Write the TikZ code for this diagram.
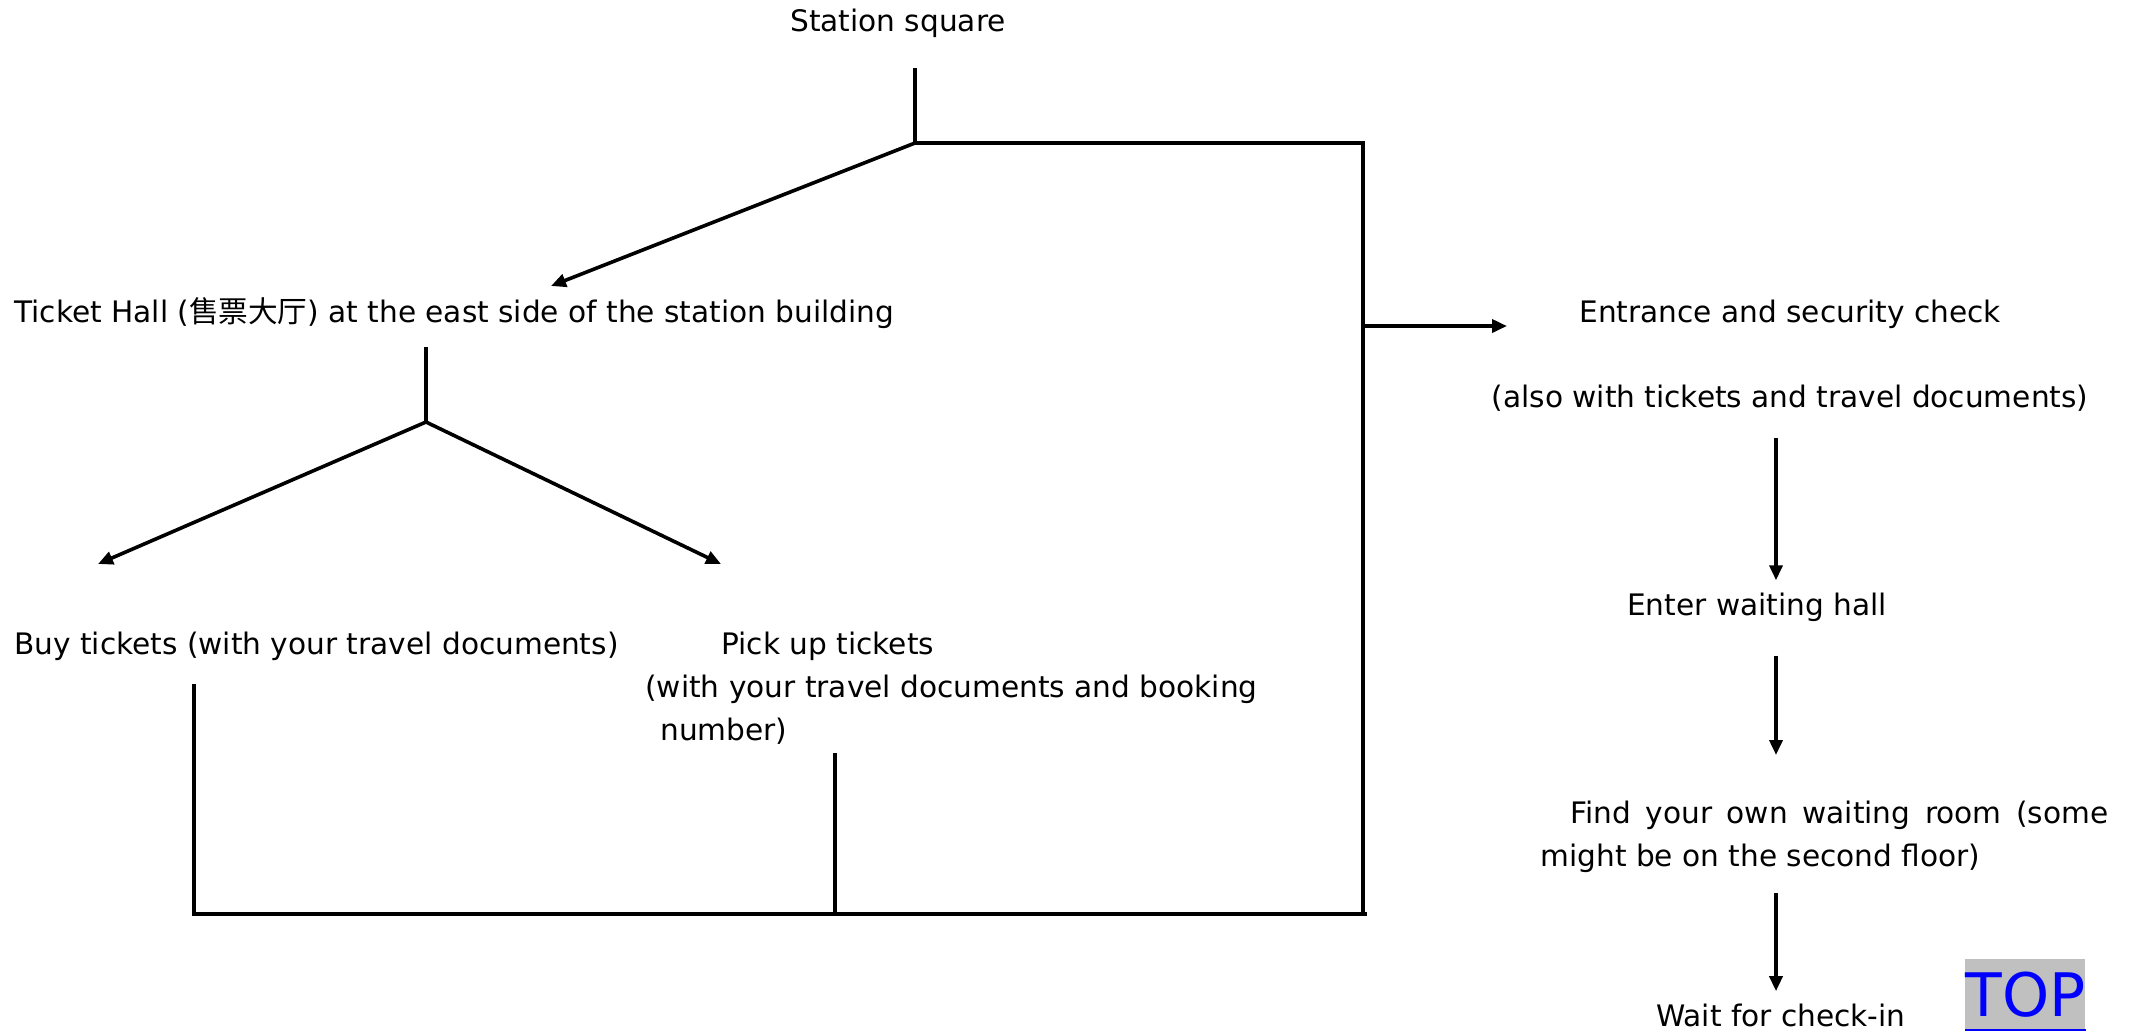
\documentclass[tikz,border=0pt]{standalone}
\usepackage{fontspec}
\setmainfont{DejaVu Sans}
\newfontfamily\cjk{Noto Sans CJK SC}
\usetikzlibrary{arrows.meta}
\definecolor{topgray}{RGB}{192,192,192}
\begin{document}
\begin{tikzpicture}[x=0.5pt,y=-0.5pt,
  lbl/.style={inner sep=0pt,font=\fontsize{14.8}{21.5}\selectfont},
  line/.style={line width=1.8pt},
  flow/.style={line width=1.8pt,-{Triangle[length=7.5pt,width=6.5pt]}}]
\useasboundingbox (0,0) rectangle (2132,1030);

% Text Nodes
\node[lbl] (station) at (898,23) {Station square};
\node[lbl,anchor=west] (hall) at (14,313) {Ticket Hall ({\cjk 售票大厅}) at the east side of the station building};
\node[lbl,anchor=west] (buy) at (14,646) {Buy tickets (with your travel documents)};
\node[lbl,anchor=north west,align=left] (pickup) at (645,632) {\hspace*{38pt}Pick up tickets\\(with your travel documents and booking\\\hspace*{7.5pt}number)};
\node[lbl,align=center] (entrance) at (1790,356) {Entrance and security check\\[21pt](also with tickets and travel documents)};
\node[lbl] (waiting) at (1757,607) {Enter waiting hall};
\node[lbl,anchor=north west,text width=284pt,align=justify] (room) at (1540,801) {\hspace*{15pt}Find your own waiting room (some\linebreak might be on the second floor)};
\node[lbl] (checkin) at (1781,1015) {Wait for check-in};
\node[fill=topgray,text=blue,font=\fontsize{30}{30}\selectfont,inner xsep=0pt,inner ysep=1.5pt,
  text height=27pt,text depth=5pt,minimum width=60pt,anchor=north west] (top) at (1965,959) {TOP};
\draw[blue,line width=1pt] (top.south west) -- (top.south east);

% Junctions
\coordinate (s0) at (915,68);
\coordinate (s1) at (915,143);
\coordinate (s2) at (1363,143);
\coordinate (s3) at (1363,914);
\coordinate (e0) at (1363,326);
\coordinate (e1) at (1507,326);
\coordinate (h0) at (426,347);
\coordinate (h1) at (426,422);
\coordinate (hin) at (551,286);
\coordinate (bin) at (98,564);
\coordinate (pin) at (721,564);
\coordinate (b0) at (194,684);
\coordinate (b1) at (194,914);
\coordinate (p0) at (835,753);
\coordinate (p1) at (835,914);

% Straight Lines
\draw[line] (s0) -- (s1) -- (s2) -- (s3);
\draw[flow] (s1) -- (hin);
\draw[line] (h0) -- (h1);
\draw[flow] (h1) -- (bin);
\draw[flow] (h1) -- (pin);
\draw[line] (b0) -- (b1) -- (s3) -- ++(4,0);
\draw[line] (p0) -- (p1);
\draw[flow] (e0) -- (e1);
\draw[flow,shorten <=13pt,shorten >=6pt] (entrance.south -| 1776,0) -- (waiting.north -| 1776,0);
\draw[flow,shorten <=17pt,shorten >=23pt] (waiting.south -| 1776,0) -- (room.north -| 1776,0);
\draw[flow,shorten <=10pt,shorten >=6pt] (room.south -| 1776,0) -- (checkin.north -| 1776,0);
\end{tikzpicture}
\end{document}
